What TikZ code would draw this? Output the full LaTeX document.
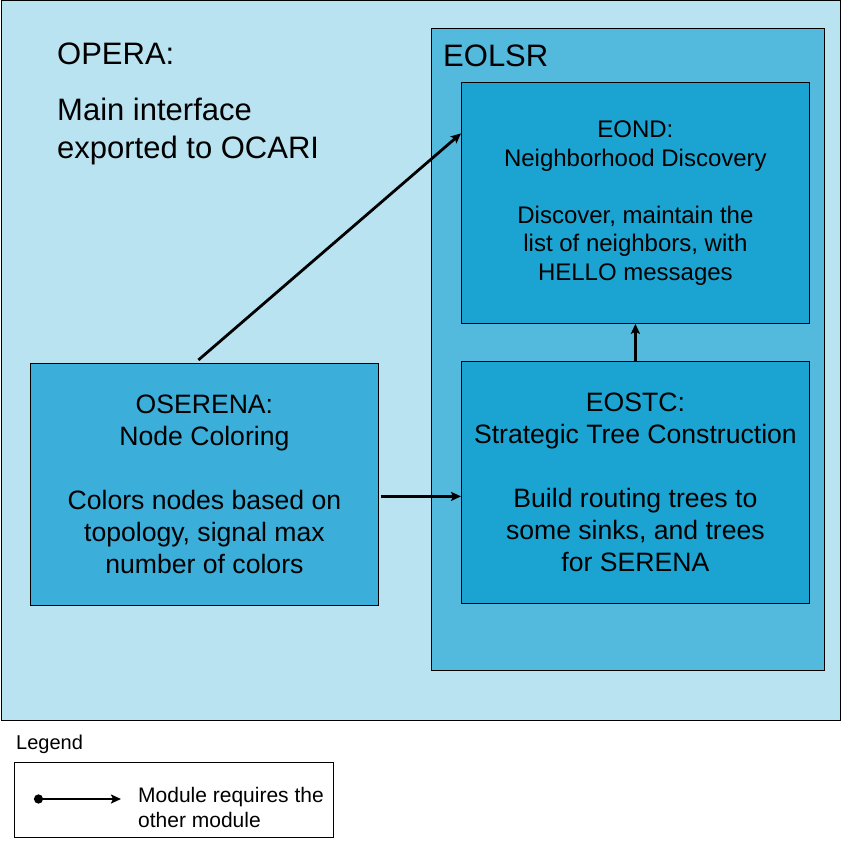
\documentclass[tikz,border=0pt]{standalone}
\usepackage{fontspec}
\setmainfont{Liberation Sans}
\usetikzlibrary{arrows.meta,calc}
\definecolor{operabg}{HTML}{B9E3F1}
\definecolor{eolsrbg}{HTML}{53B9DD}
\definecolor{modbg}{HTML}{1BA4D2}
\definecolor{oserenabg}{HTML}{3BAEDA}
\begin{document}
\begin{tikzpicture}[x=1pt,y=-1pt,
  box/.style={draw=black,line width=0.8pt,inner sep=0pt,anchor=north west,align=center},
  lbl/.style={anchor=west,inner sep=0pt,align=left},
  arr/.style={line width=2.8pt,-{Stealth[length=10pt,width=9pt,inset=2pt]}}]
\useasboundingbox (0,0) rectangle (854,850);
\node[box,fill=operabg,minimum width=839pt,minimum height=719.5pt] (opera) at (0.5,0.5) {};
\node[box,fill=eolsrbg,minimum width=393pt,minimum height=642pt] (eolsr) at (431,28) {};
\node[box,fill=modbg,minimum width=348pt,minimum height=241pt,font=\fontsize{24}{28.5}\selectfont] (eond) at (461,82)
  {EOND:\\Neighborhood Discovery\\[28.5pt]Discover, maintain the\\list of neighbors, with\\HELLO messages};
\node[box,fill=modbg,minimum width=348pt,minimum height=242pt,font=\fontsize{26.6}{32}\selectfont] (eostc) at (461,361)
  {EOSTC:\\Strategic Tree Construction\\[32pt]Build routing trees to\\some sinks, and trees\\for SERENA};
\node[box,fill=oserenabg,minimum width=348pt,minimum height=242pt,font=\fontsize{26.6}{32}\selectfont] (oserena) at (30,363)
  {OSERENA:\\Node Coloring\\[32pt]Colors nodes based on\\topology, signal max\\number of colors};
\node[lbl,font=\fontsize{31}{37}\selectfont] (operalbl) at (57,54) {OPERA:};
\node[lbl,font=\fontsize{31}{38}\selectfont] (operadesc) at (57,131) {Main interface\\exported to OCARI};
\node[lbl,font=\fontsize{31}{37}\selectfont] (eolsrlbl) at (443,56) {EOLSR};
\draw[arr] ([xshift=-6pt,yshift=3pt]oserena.north) -- ([yshift=69.5pt]eond.west);
\draw[arr] ([xshift=2pt,yshift=-12pt]oserena.east) -- ([yshift=-14pt]eostc.west);
\draw[arr] (eostc.north) -- (eond.south);
\node[lbl,font=\fontsize{20}{24}\selectfont] (legendlbl) at (16,744) {Legend};
\node[draw=black,line width=0.8pt,fill=white,minimum width=319pt,minimum height=75pt,anchor=north west,inner sep=0pt] (legendbox) at (14,762) {};
\coordinate (la) at (34,799);
\coordinate (lb) at (121,799);
\draw[line width=2.8pt,{Circle[length=9pt]}-{Stealth[length=10pt,width=9pt,inset=2pt]}] (la) -- (lb);
\node[lbl,font=\fontsize{21}{25}\selectfont] (legendtxt) at (138,807) {Module requires the\\other module};
\end{tikzpicture}
\end{document}
